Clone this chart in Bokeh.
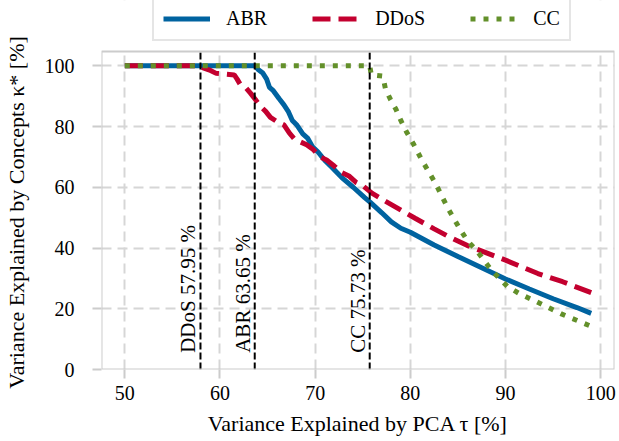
import math
from bokeh.plotting import figure
from bokeh.models import (Legend, LegendItem, Range1d, FixedTicker, ColumnDataSource,
                          BoxAnnotation)
from bokeh.core.properties import value
from bokeh.embed import file_html
from bokeh.resources import INLINE

# ---------------- data ----------------
x_ticks = [50, 60, 70, 80, 90, 100]
y_ticks = [0, 20, 40, 60, 80, 100]

abr_x = [50, 63.65, 64.0, 64.5, 64.9, 65.2, 65.6, 66.2, 66.7, 67.2, 67.6, 68.1, 68.7, 69.2,
         69.7, 70.3, 71.0, 71.8, 72.8, 74.0, 75.2, 75.8, 77.0, 78.0, 79.0, 80.0, 82.5, 85.0,
         87.5, 90.0, 92.5, 95.0, 97.5, 99.0]
abr_y = [100, 100, 98.8, 97.6, 95.6, 92.9, 91.8, 89.2, 87.2, 84.8, 82.0, 80.4, 77.6, 76.2,
         73.4, 71.6, 68.9, 66.4, 63.2, 60.0, 56.6, 55.0, 51.6, 48.6, 46.5, 45.2, 41.0, 37.2,
         33.5, 29.8, 26.5, 23.3, 20.4, 18.5]

ddos_x = [50, 57.95, 58.3, 58.9, 59.6, 60.4, 61.5, 61.8, 62.1, 62.6, 63.2, 63.7, 64.2, 64.8,
          65.3, 66.0, 66.7, 67.3, 67.8, 68.4, 69.1, 69.8, 70.5, 71.2, 72.0, 72.8, 73.6, 74.3,
          75.0, 76.0, 77.5, 79.1, 80.5, 82.5, 84.0, 86.0, 88.0, 90.0, 93.4, 96.0, 99.0]
ddos_y = [100, 100, 99.2, 98.6, 97.5, 97.3, 97.0, 95.6, 94.0, 93.2, 91.0, 89.0, 86.8, 85.0,
          83.0, 81.6, 80.6, 77.8, 76.0, 75.0, 74.0, 72.4, 70.0, 69.0, 67.0, 64.8, 63.6, 61.6,
          60.5, 58.0, 55.2, 52.3, 49.8, 46.3, 43.8, 40.8, 38.4, 36.0, 31.6, 28.9, 25.3]

cc_x = [50, 75.73, 75.9, 77.1, 77.4, 77.9, 78.5, 79.0, 79.6, 80.3, 81.2, 82.6, 84.0, 85.2,
        86.0, 87.0, 88.5, 90.2, 91.5, 93.0, 95.8, 99.0]
cc_y = [100, 100, 97.0, 96.6, 92.2, 89.0, 85.6, 82.0, 78.2, 74.4, 69.0, 61.5, 52.8, 46.3,
        42.4, 39.0, 32.8, 27.3, 24.9, 22.7, 18.4, 14.2]

thresholds = [57.95, 63.65, 75.73]
threshold_labels = ["DDoS 57.95 %", "ABR 63.65 %", "CC 75.73 %"]
label_y = [5.5, 5.5, 5.5]

series_names = ["ABR", "DDoS", "CC"]

# axis limits
X_MIN, X_MAX = 47.55, 101.45
Y_MIN, Y_MAX = 0, 104.7

# ---------------- style ----------------
FONT = "Liberation Serif"
BLUE = "#0063a0"
RED = "#c3002f"
GREEN = "#63902a"
FRAME = "#cccccc"
GRID = "#d6d6d6"

W, H = 619, 441
B_LEFT, B_RIGHT, B_BOTTOM = 97, 5, 72
FRAME_TOP = 51                      # where the visible axes box starts (px from top)
inner_h = H - B_BOTTOM              # drawable height (legend lives in the top strip)
box_h = inner_h - FRAME_TOP
y_top = Y_MIN + (Y_MAX - Y_MIN) * inner_h / box_h

p = figure(width=W, height=H, output_backend="svg", toolbar_location=None,
           x_range=Range1d(X_MIN, X_MAX), y_range=Range1d(Y_MIN, y_top),
           min_border_left=B_LEFT, min_border_right=B_RIGHT, min_border_top=0,
           min_border_bottom=B_BOTTOM)

p.background_fill_color = "white"
p.border_fill_color = "white"
p.outline_line_color = None

p.xaxis.ticker = FixedTicker(ticks=x_ticks)
p.yaxis.ticker = FixedTicker(ticks=y_ticks)
p.xaxis.axis_label = "Variance Explained by PCA τ [%]"
# trailing em spaces keep the visible label centred on the axes box
p.yaxis.axis_label = "Variance Explained by Concepts κ* [%]\u2003\u2003\u2002"

for ax in (p.xaxis, p.yaxis):
    ax.axis_line_color = None
    ax.major_tick_line_color = FRAME
    ax.major_tick_line_width = 2
    ax.major_tick_out = 9
    ax.major_tick_in = 0
    ax.minor_tick_line_color = None
    ax.major_label_text_font = FONT
    ax.major_label_text_font_size = "20px"
    ax.major_label_text_color = "black"
    ax.axis_label_text_font = FONT
    ax.axis_label_text_font_size = "22px"
    ax.axis_label_text_font_style = "normal"
    ax.axis_label_text_color = "black"

p.xaxis.major_label_standoff = 7
p.yaxis.major_label_standoff = 18
p.xaxis.axis_label_standoff = 8
p.yaxis.axis_label_standoff = 13

p.grid.grid_line_color = GRID
p.grid.grid_line_width = 2
p.grid.grid_line_dash = "10 6"

# blank the strip above the axes box, then draw the box
p.add_layout(BoxAnnotation(bottom=Y_MAX, fill_color="white", fill_alpha=1, line_alpha=0))
p.add_layout(BoxAnnotation(bottom=Y_MIN, top=Y_MAX, fill_alpha=0, line_color=FRAME,
                           line_width=2, line_alpha=1))

r_abr = p.line(abr_x, abr_y, line_color=BLUE, line_width=5)
r_ddos = p.line(ddos_x, ddos_y, line_color=RED, line_width=5, line_dash="18 8")
r_cc = p.line(cc_x, cc_y, line_color=GREEN, line_width=5, line_dash="5 8")

# threshold lines spanning the axes box
p.segment(x0=thresholds, y0=[Y_MIN] * 3, x1=thresholds, y1=[Y_MAX] * 3,
          line_color="black", line_width=2, line_dash="7 3")

src = ColumnDataSource(dict(x=thresholds, y=label_y, text=threshold_labels))
p.text(x="x", y="y", text="text", source=src, angle=math.pi / 2,
       text_align="left", text_baseline="bottom", x_offset=0,
       text_font=value(FONT), text_font_size="21px", text_color="black")

legend = Legend(items=[LegendItem(label=series_names[0], renderers=[r_abr]),
                       LegendItem(label=series_names[1], renderers=[r_ddos]),
                       LegendItem(label=series_names[2], renderers=[r_cc])],
                orientation="horizontal", location=(51, inner_h - 41))
legend.border_line_color = FRAME
legend.border_line_width = 2
legend.background_fill_color = "white"
legend.background_fill_alpha = 1
legend.label_text_font = FONT
legend.label_text_font_size = "20px"
legend.label_text_color = "black"
legend.glyph_width = 47
legend.glyph_height = 21
legend.label_height = 21
legend.label_standoff = 16
legend.spacing = 45
legend.padding = 9
legend.margin = 0
p.add_layout(legend)

open("out.html", "w").write(file_html(p, INLINE))
